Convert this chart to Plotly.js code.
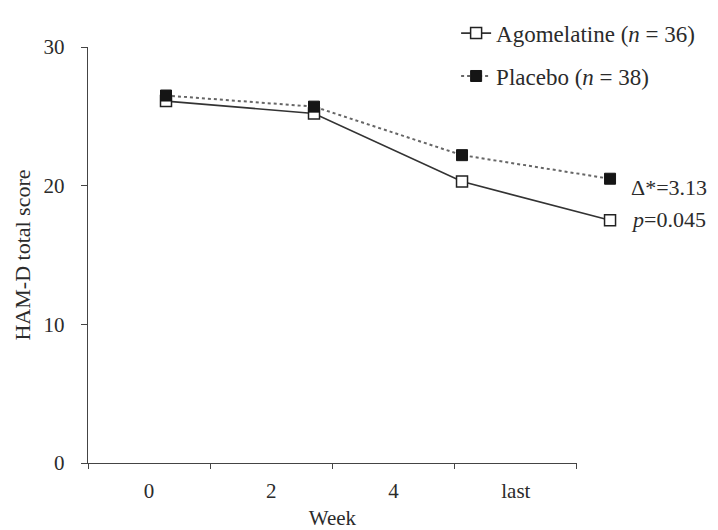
<!DOCTYPE html>
<html>
<head>
<meta charset="utf-8">
<script src="https://cdn.plot.ly/plotly-3.0.1.min.js"></script>
<style>html,body{margin:0;padding:0;background:#fff;}#chart{width:718px;height:530px;}</style>
</head>
<body>
<div id="chart"></div>
<script>
const weeks = ["0", "2", "4", "last"];
const agomelatine = [26.1, 25.2, 20.3, 17.5];
const placebo = [26.5, 25.7, 22.2, 20.5];
const yTicks = [0, 10, 20, 30];

const font = "Liberation Serif, Times New Roman, serif";
const ink = "#2b2b2b";

const traces = [
  {
    x: weeks, y: agomelatine, xaxis: "x2", yaxis: "y",
    type: "scatter", mode: "lines+markers",
    name: "Agomelatine (<i>n</i> = 36)",
    legendgroup: "a",
    line: {color: "#333", width: 1.6, dash: "solid"},
    marker: {symbol: "square", size: 11, color: "#fff", line: {color: "#222", width: 1.5}},
    cliponaxis: false
  },
  {
    x: weeks, y: placebo, xaxis: "x2", yaxis: "y",
    type: "scatter", mode: "lines+markers",
    name: "Placebo (<i>n</i> = 38)",
    legendgroup: "b",
    line: {color: "#666", width: 2, dash: "dot"},
    marker: {symbol: "square", size: 11, color: "#151515", line: {color: "#151515", width: 1}},
    cliponaxis: false
  },
  {
    // invisible carrier so the labelled week axis is drawn
    x: weeks.map((_, i) => i), y: agomelatine, xaxis: "x", yaxis: "y",
    type: "scatter", mode: "markers", marker: {opacity: 0},
    showlegend: false, hoverinfo: "skip"
  }
];

const layout = {
  width: 718, height: 530,
  margin: {l: 88, r: 68, t: 42, b: 67},
  paper_bgcolor: "#fff",
  plot_bgcolor: "rgba(0,0,0,0)",
  font: {family: font, size: 21, color: ink},
  showlegend: true,
  legend: {
    x: 0.655, xanchor: "left", y: 1.085, yanchor: "top",
    bgcolor: "rgba(0,0,0,0)", font: {family: font, size: 23, color: ink},
    tracegroupgap: 10, itemwidth: 30
  },
  xaxis: {
    domain: [0, 0.87], anchor: "y", automargin: false,
    range: [-0.5, weeks.length - 0.5],
    tickmode: "array",
    tickvals: weeks.map((_, i) => i),
    ticktext: weeks,
    ticks: "outside", ticklen: 0,
    ticklabelstandoff: 8,
    minor: {tickmode: "array", tickvals: weeks.map((_, i) => i - 0.5).concat([weeks.length - 0.5]), ticks: "outside", ticklen: 5, tickcolor: "#444", showgrid: false},
    showline: true, linecolor: "#444", linewidth: 1.3,
    showgrid: false, zeroline: false,
    tickfont: {family: font, size: 21, color: ink},
    title: {text: "Week", font: {family: font, size: 21, color: ink}, standoff: 8},
    fixedrange: true
  },
  xaxis2: {
    domain: [0, 1], anchor: "y", visible: false,
    type: "category", categoryorder: "array", categoryarray: weeks,
    range: [-0.527, 3.27],
    fixedrange: true
  },
  yaxis: {
    anchor: "x", range: [0, 30], automargin: false,
    tickmode: "array", tickvals: yTicks,
    ticks: "outside", ticklen: 6, tickcolor: "#444",
    ticklabelstandoff: 12,
    showline: true, linecolor: "#444", linewidth: 1.3,
    showgrid: false, zeroline: false,
    tickfont: {family: font, size: 21, color: ink},
    title: {text: "HAM-D total score", font: {family: font, size: 22, color: ink}, standoff: 6},
    fixedrange: true
  },
  annotations: [
    {xref: "x2", yref: "y", x: weeks[3], y: placebo[3], text: "Δ*=3.13", showarrow: false,
     xanchor: "left", yanchor: "middle", xshift: 19, yshift: -9, font: {family: font, size: 22, color: ink}},
    {xref: "x2", yref: "y", x: weeks[3], y: agomelatine[3], text: "<i>p</i>=0.045", showarrow: false,
     xanchor: "left", yanchor: "middle", xshift: 19, yshift: 1, font: {family: font, size: 22, color: ink}}
  ]
};

Plotly.newPlot("chart", traces, layout, {displayModeBar: false, staticPlot: true});
</script>
</body>
</html>
